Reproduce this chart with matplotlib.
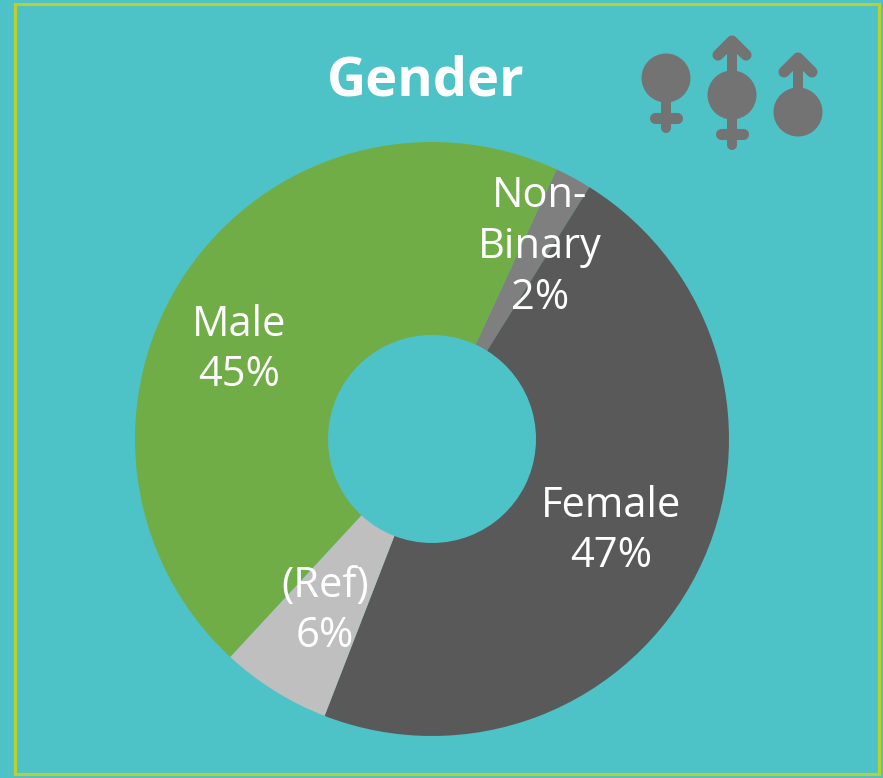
import matplotlib.pyplot as plt
from matplotlib.patches import Circle, Rectangle

# datos del grafico
labels = ['Non-\nBinary', 'Female', '(Ref)', 'Male']
values = [2, 47, 6, 45]
colors = ['#7F7F7F', '#595959', '#BFBFBF', '#70AD47']
label_pos = [(540, 247), (611, 531), (325, 611), (239, 350)]

W, H = 883, 778
BG = '#4EC3C7'
BORDER = '#BCD02B'
ICON = '#737373'
FONT = 'Open Sans'

fig = plt.figure(figsize=(W/100, H/100), dpi=100, facecolor=BG)
ax = fig.add_axes([0, 0, 1, 1])

# y invertida a mano: todo se mide en pixeles desde arriba
def Y(y):
    return H - y

ax.pie(values, colors=colors, center=(432, Y(439)), radius=297,
       startangle=65.2, counterclock=False,
       wedgeprops={'width': 193, 'linewidth': 0})

ax.set_xlim(0, W)
ax.set_ylim(0, H)
ax.set_aspect('equal')
ax.axis('off')

# marco
ax.add_patch(Rectangle((14.5, Y(773.5)), 864, 770, fill=False,
                       edgecolor=BORDER, linewidth=2.2))

# etiquetas
for lab, val, pos in zip(labels, values, label_pos):
    ax.text(pos[0], Y(pos[1]), f'{lab}\n{val}%', color='white', fontsize=30,
            family=FONT, ha='center', va='center', linespacing=1.27,
            multialignment='center')

ax.text(426, Y(81), 'Gender', color='white', fontsize=39, fontweight='bold',
        family=FONT, ha='center', va='center')

# iconos
def stem(x, y0, y1):
    ax.plot([x, x], [Y(y0), Y(y1)], color=ICON, lw=7.2, solid_capstyle='round')

def female_end(x, y_top, y_cross, y_bottom):
    stem(x, y_top, y_bottom)
    ax.plot([x-11, x+11], [Y(y_cross), Y(y_cross)], color=ICON, lw=8,
            solid_capstyle='round')

def male_end(x, y_top, y_bottom):
    stem(x, y_top+6, y_bottom)
    ax.plot([x-14, x, x+14], [Y(y_top+20), Y(y_top+6), Y(y_top+20)], color=ICON,
            lw=8, solid_capstyle='round', solid_joinstyle='round')

def ring(x, y):
    ax.add_patch(Circle((x, Y(y)), 24.5, color=ICON, lw=0))

ring(666, 78)
female_end(666, 100, 118, 128)

ring(732, 95)
male_end(732, 35, 75)
female_end(732, 115, 134, 145)

ring(798, 112)
male_end(798, 52, 92)

plt.savefig('out.png', dpi=100, facecolor=BG)
